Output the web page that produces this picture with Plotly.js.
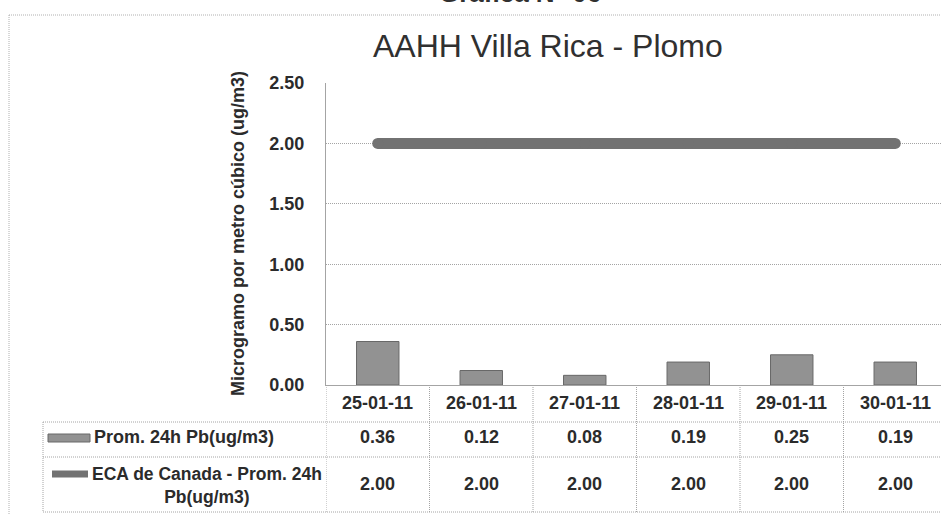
<!DOCTYPE html>
<html>
<head>
<meta charset="utf-8">
<script src="https://cdn.plot.ly/plotly-3.0.1.min.js"></script>
<style>html,body{margin:0;padding:0;background:#fff;}#chart{width:941px;height:514px;}</style>
</head>
<body>
<div id="chart"></div>
<script>
// ---- data ----
const categories = ["25-01-11", "26-01-11", "27-01-11", "28-01-11", "29-01-11", "30-01-11"];
const promPb = [0.36, 0.12, 0.08, 0.19, 0.25, 0.19];
const ecaCanada = [2.00, 2.00, 2.00, 2.00, 2.00, 2.00];
const yTicks = [0, 0.5, 1.0, 1.5, 2.0, 2.5];
const seriesNames = ["Prom. 24h Pb(ug/m3)", "ECA de Canada - Prom. 24h<br>Pb(ug/m3)"];
const chartTitle = "AAHH Villa Rica - Plomo";
const topTitle = "Gráfica N° 06";
const yTitle = "Microgramo por metro cúbico (ug/m3)";

// ---- layout helpers (pixel -> paper) ----
const L = 326, T = 83, W = 941, H = 514, B = 385;
const PW = W - L, PH = B - T;
const px = x => (x - L) / PW;
const py = y => (B - y) / PH;

const FONT = "Liberation Sans";
const TXT = "#2b2b2b";
const GRID = "#a4a4a4";
const DOT = "1px,1px";

const traces = [
  {
    type: "bar",
    x: categories,
    y: promPb,
    width: 0.41,
    marker: {color: "#929292", line: {color: "#686868", width: 1}},
    name: seriesNames[0],
    hoverinfo: "x+y"
  },
  {
    type: "scatter",
    mode: "lines+markers",
    x: categories,
    y: ecaCanada,
    line: {color: "#727272", width: 11},
    marker: {color: "#727272", size: 11},
    name: seriesNames[1],
    hoverinfo: "x+y"
  }
];

const shapes = [];
const annotations = [];

// outer frame
shapes.push({type: "line", xref: "paper", yref: "paper", x0: px(9), x1: px(9), y0: py(514), y1: py(15),
  line: {color: "#b0b0b0", width: 1, dash: DOT}});
shapes.push({type: "line", xref: "paper", yref: "paper", x0: px(9), x1: 1, y0: py(15), y1: py(15),
  line: {color: "#b0b0b0", width: 1, dash: DOT}});

// table lines
const rowLine1 = py(422), rowLine2 = py(457), tableBottom = py(512);
[rowLine1, rowLine2, tableBottom].forEach(yy => {
  shapes.push({type: "line", xref: "paper", yref: "paper", x0: px(43), x1: 1, y0: yy, y1: yy,
    line: {color: GRID, width: 1, dash: DOT}});
});
shapes.push({type: "line", xref: "paper", yref: "paper", x0: px(43), x1: px(43), y0: rowLine1, y1: tableBottom,
  line: {color: GRID, width: 1, dash: DOT}});
// category boundaries through the table
for (let i = 0; i < categories.length; i++) {
  shapes.push({type: "line", xref: "x", yref: "paper", x0: i - 0.5, x1: i - 0.5, y0: 0, y1: tableBottom,
    line: {color: GRID, width: 1, dash: DOT}});
}
// legend swatches
shapes.push({type: "rect", xref: "paper", yref: "paper", x0: px(48), x1: px(90), y0: py(442), y1: py(434),
  fillcolor: "#929292", line: {color: "#686868", width: 1}});
shapes.push({type: "line", xref: "paper", yref: "paper", x0: px(52), x1: px(88), y0: py(474), y1: py(474),
  line: {color: "#727272", width: 7}});

// table text
const cellFont = {family: FONT, size: 18, color: TXT, weight: "bold"};
categories.forEach((c, i) => {
  annotations.push({xref: "x", yref: "paper", x: i, y: py(403), text: c, showarrow: false, font: cellFont, xanchor: "center", yanchor: "middle"});
  annotations.push({xref: "x", yref: "paper", x: i, y: py(437), text: promPb[i].toFixed(2), showarrow: false, font: cellFont, xanchor: "center", yanchor: "middle"});
  annotations.push({xref: "x", yref: "paper", x: i, y: py(484), text: ecaCanada[i].toFixed(2), showarrow: false, font: cellFont, xanchor: "center", yanchor: "middle"});
});
annotations.push({xref: "paper", yref: "paper", x: px(92), y: py(437), text: seriesNames[0], showarrow: false,
  font: cellFont, xanchor: "left", yanchor: "middle"});
annotations.push({xref: "paper", yref: "paper", x: px(207), y: py(485), text: seriesNames[1], showarrow: false,
  font: {family: FONT, size: 17.5, color: TXT, weight: "bold"}, xanchor: "center", yanchor: "middle", align: "center"});

// titles
annotations.push({xref: "paper", yref: "paper", x: px(548), y: py(46), text: chartTitle, showarrow: false,
  font: {family: FONT, size: 32, color: "#303030"}, xanchor: "center", yanchor: "middle"});
annotations.push({xref: "paper", yref: "paper", x: px(520), y: py(-7), text: topTitle, showarrow: false,
  font: {family: FONT, size: 26, color: "#303030", weight: "bold"}, xanchor: "center", yanchor: "middle"});
annotations.push({xref: "paper", yref: "paper", x: px(238), y: py(234), text: yTitle, showarrow: false, textangle: -90,
  font: {family: FONT, size: 18, color: TXT, weight: "bold"}, xanchor: "center", yanchor: "middle"});

const layout = {
  width: W, height: H,
  margin: {l: L, r: 0, t: T, b: H - B, pad: 0},
  paper_bgcolor: "#ffffff", plot_bgcolor: "#ffffff",
  showlegend: false,
  font: {family: FONT, color: TXT},
  xaxis: {
    type: "category",
    range: [-0.5, -0.5 + PW / 103.5],
    showticklabels: false, ticks: "",
    showgrid: false, zeroline: false,
    showline: true, linecolor: GRID, linewidth: 1,
    fixedrange: true
  },
  yaxis: {
    range: [0, 2.5],
    tickvals: yTicks, tickformat: ".2f",
    ticks: "outside", ticklen: 17, tickcolor: "rgba(0,0,0,0)",
    tickfont: {family: FONT, size: 18, color: TXT, weight: "bold"},
    showgrid: true, gridcolor: GRID, griddash: DOT, gridwidth: 1,
    zeroline: false,
    showline: true, linecolor: GRID, linewidth: 1,
    fixedrange: true
  },
  shapes: shapes,
  annotations: annotations
};

Plotly.newPlot("chart", traces, layout, {displayModeBar: false, staticPlot: true});
</script>
</body>
</html>
